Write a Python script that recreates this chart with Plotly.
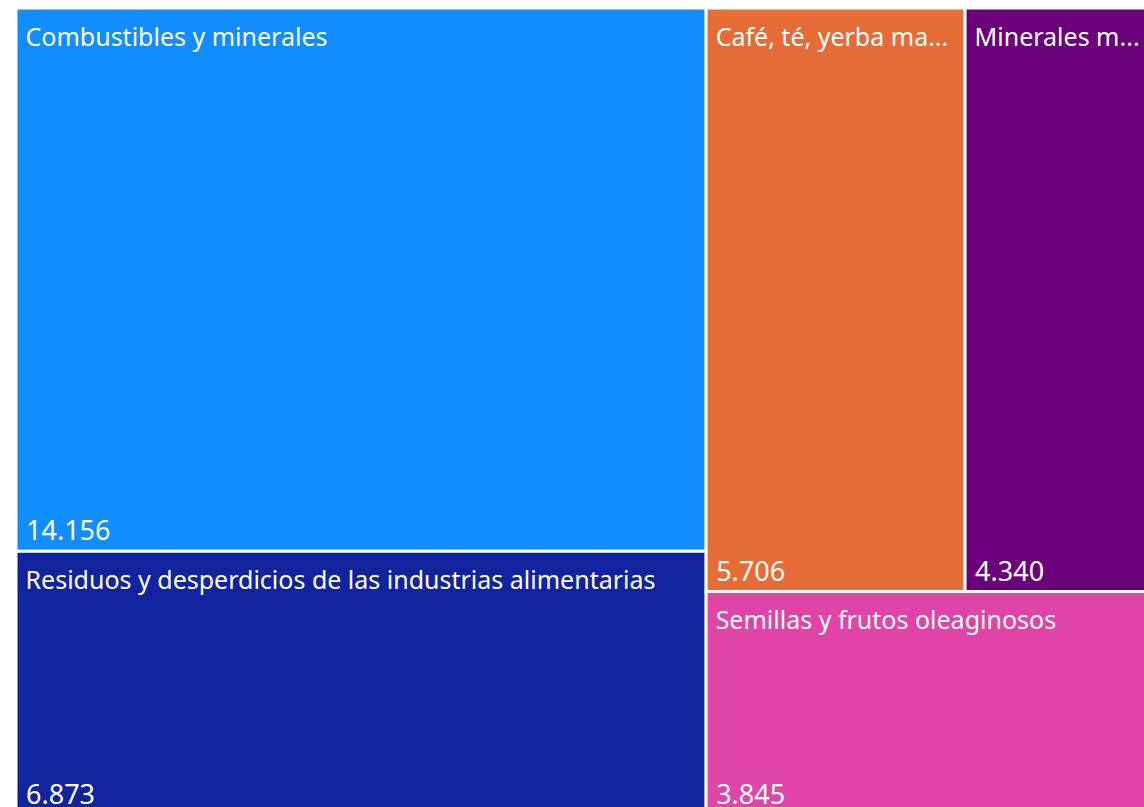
import plotly.graph_objects as go

# Exportaciones por capítulo (valores tal como figuran en el treemap)
labels = [
    "Combustibles y minerales",
    "Residuos y desperdicios de las industrias alimentarias",
    "Café, té, yerba mate y especias",
    "Minerales metalíferos, escorias y cenizas",
    "Semillas y frutos oleaginosos",
]
shown = [
    "Combustibles y minerales",
    "Residuos y desperdicios de las industrias alimentarias",
    "Café, té, yerba ma...",
    "Minerales m...",
    "Semillas y frutos oleaginosos",
]
values = [14156, 6873, 5706, 4340, 3845]
colors = ["#118DFF", "#12239E", "#E66C37", "#6B007B", "#E044A7"]

FONT = "Noto Sans, Open Sans, sans-serif"
parents = [""] * len(labels)
tiling = dict(packing="squarify", squarifyratio=1.618, pad=0)
no_pad = dict(t=0, l=0, r=0, b=0)
NB = "\u00a0"  # un poco de margen a la izquierda del texto

# primera línea vacía con fuente base chica -> baja el nombre unos px
big = "<span style='font-size:25px'>"
label_tpl = big + NB + "</span><br>" + big + NB + "%{text}</span>"

fig = go.Figure()

# celdas + nombre arriba a la izquierda
fig.add_trace(go.Treemap(
    labels=labels,
    parents=parents,
    values=values,
    text=shown,
    sort=True,
    texttemplate=label_tpl,
    textposition="top left",
    textfont=dict(family=FONT, size=6, color="white"),
    marker=dict(colors=colors, line=dict(width=3, color="white"), pad=no_pad),
    tiling=tiling,
    pathbar=dict(visible=False),
    hovertemplate="%{label}<br>%{value:,}<extra></extra>",
))

# mismo treemap transparente para el valor abajo a la izquierda
fig.add_trace(go.Treemap(
    labels=labels,
    parents=parents,
    values=values,
    sort=True,
    texttemplate=NB + "%{value:,}",
    textposition="bottom left",
    textfont=dict(family=FONT, size=27, color="white"),
    marker=dict(colors=["rgba(0,0,0,0)"] * len(labels), line=dict(width=0), pad=no_pad),
    tiling=tiling,
    pathbar=dict(visible=False),
    hoverinfo="skip",
))

fig.update_layout(
    width=1162,
    height=815,
    margin=dict(l=16, r=0, t=8, b=0),
    paper_bgcolor="white",
    separators=",.",
    showlegend=False,
)

fig.write_html(
    "out.html",
    config={"displayModeBar": False},
    post_script="document.body.style.margin='0';document.body.style.overflow='hidden';"
    "document.documentElement.style.overflow='hidden';",
)
